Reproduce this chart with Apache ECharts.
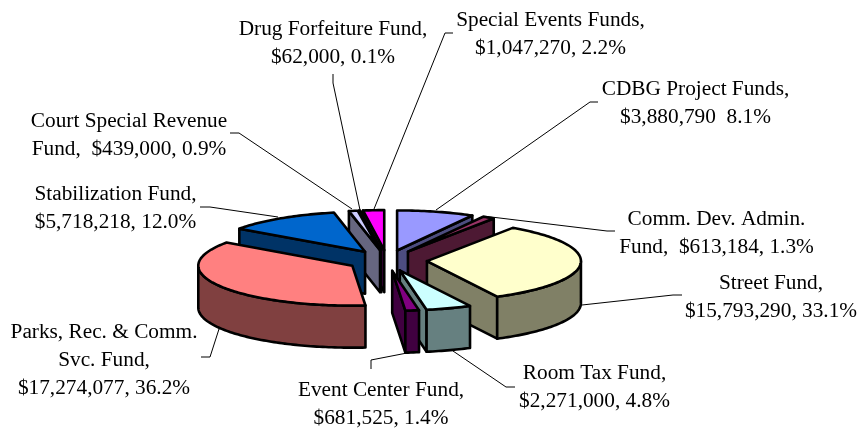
<!DOCTYPE html>
<html>
<head>
<meta charset="utf-8">
<title>Fund budget</title>
<script src="https://cdn.jsdelivr.net/npm/echarts@6/dist/echarts.min.js"></script>
<style>
  html, body { margin: 0; padding: 0; background: #fff; }
  #main { width: 861px; height: 428px; }
</style>
</head>
<body>
<div id="main"></div>
<script>
  // clockwise from 12 o'clock
  var funds = ['CDBG Project', 'Comm. Dev. Admin.', 'Street', 'Room Tax', 'Event Center',
    'Parks, Rec. & Comm. Svc.', 'Stabilization', 'Court Special Revenue', 'Drug Forfeiture', 'Special Events'];
  var amounts = [3880790, 613184, 15793290, 2271000, 681525, 17274077, 5718218, 439000, 62000, 1047270];
  var labels = [
    'CDBG Project Funds,\n$3,880,790  8.1%',
    'Comm. Dev. Admin.\nFund,  $613,184, 1.3%',
    'Street Fund,\n$15,793,290, 33.1%',
    'Room Tax Fund,\n$2,271,000, 4.8%',
    'Event Center Fund,\n$681,525, 1.4%',
    'Parks, Rec. & Comm.\nSvc. Fund,\n$17,274,077, 36.2%',
    'Stabilization Fund,\n$5,718,218, 12.0%',
    'Court Special Revenue\nFund,  $439,000, 0.9%',
    'Drug Forfeiture Fund,\n$62,000, 0.1%',
    'Special Events Funds,\n$1,047,270, 2.2%'
  ];
  var topColors = ['#9999FF', '#993366', '#FFFFCC', '#CCFFFF', '#800080', '#FF8080', '#0066CC', '#CCCCFF', '#000080', '#FF00FF'];
  var sideColors = ['#4D4D80', '#4D1933', '#808066', '#668080', '#400040', '#804040', '#003366', '#666680', '#000040', '#800080'];

  // label anchors (centre x, middle y of the block) and leader lines
  var labelPos = [[695.5, 103.5], [716.5, 233.5], [771, 297.5], [594.5, 387.5], [381, 404.5], [104, 360], [115.5, 208], [129, 135], [333, 43.5], [550.5, 34]];
  var leaders = [
    [[598, 102], [590, 102], [436, 210]],
    [[615, 231], [607, 231], [483, 216]],
    [[682, 295], [673, 295], [582, 305]],
    [[515, 387], [506, 387], [453, 351]],
    [[371, 369], [371, 360], [407, 353]],
    [[201, 357], [210, 357], [219, 329]],
    [[200, 207], [210, 207], [278, 217]],
    [[230, 133], [239, 133], [352, 209]],
    [[333, 74], [333, 83], [360, 210]],
    [[453, 33], [445, 33], [374, 209]]
  ];

  var cx = 387, cy = 260.5, rx = 154, ry = 40, depth = 42, explode = 40;
  var total = amounts.reduce(function (a, b) { return a + b; }, 0);

  // value -> angle in radians, clockwise from the top
  function toAngle(v) {
    return echarts.number.linearMap(v, [0, total], [0, Math.PI * 2]);
  }

  var running = 0;
  var slices = amounts.map(function (v, i) {
    var a0 = toAngle(running);
    running += v;
    var a1 = toAngle(running);
    var mid = (a0 + a1) / 2;
    return {
      i: i, a0: a0, a1: a1,
      x: cx + explode * Math.sin(mid),
      y: cy - explode * Math.cos(mid) * ry / rx
    };
  });

  function rim(s, a) {
    return [s.x + rx * Math.sin(a), s.y - ry * Math.cos(a)];
  }
  function down(p) {
    return [p[0], p[1] + depth];
  }
  function arcPoints(s, a0, a1) {
    var pts = [], n = Math.max(2, Math.ceil((a1 - a0) / 0.02));
    for (var k = 0; k <= n; k++) {
      pts.push(rim(s, a0 + (a1 - a0) * k / n));
    }
    return pts;
  }
  function shape(points, fill) {
    return {
      type: 'polygon',
      shape: { points: points },
      style: { fill: fill, stroke: '#000', lineWidth: 2.6, lineJoin: 'round' }
    };
  }
  // a radial wall shows when the top face lies above its edge on screen
  function wallShows(s, a) {
    var e = rim(s, a), m = rim(s, (s.a0 + s.a1) / 2);
    var ex = e[0] - s.x, ey = e[1] - s.y, mx = m[0] - s.x, my = m[1] - s.y;
    if (Math.abs(ex) < 0.5) return false;
    return my < ey / ex * mx;
  }

  // back to front
  var order = slices.slice().sort(function (a, b) { return a.y - b.y; });

  function renderItem(params, api) {
    var s = order[params.dataIndex];
    var children = [];
    var top = [s.x, s.y];
    [s.a0, s.a1].forEach(function (a) {
      if (wallShows(s, a)) {
        var e = rim(s, a);
        children.push(shape([top, e, down(e), down(top)], sideColors[s.i]));
      }
    });
    var f0 = Math.max(s.a0, Math.PI / 2), f1 = Math.min(s.a1, Math.PI * 1.5);
    if (f1 > f0) {
      var arc = arcPoints(s, f0, f1);
      children.push(shape(arc.concat(arc.map(down).reverse()), sideColors[s.i]));
    }
    children.push(shape([top].concat(arcPoints(s, s.a0, s.a1)), topColors[s.i]));
    return { type: 'group', children: children };
  }

  var chart = echarts.init(document.getElementById('main'));
  var graphics = [];
  leaders.forEach(function (pts) {
    graphics.push({
      type: 'polyline', z: 1,
      shape: { points: pts },
      style: { stroke: '#000', lineWidth: 1, fill: null }
    });
  });
  labels.forEach(function (txt, i) {
    graphics.push({
      type: 'text', z: 3,
      x: labelPos[i][0], y: labelPos[i][1],
      style: {
        text: txt, fill: '#000', align: 'center', verticalAlign: 'middle',
        font: '21.3px "Liberation Serif"', lineHeight: 28
      }
    });
  });

  chart.setOption({
    animation: false,
    backgroundColor: '#fff',
    graphic: graphics,
    series: [{
      type: 'custom',
      coordinateSystem: 'none',
      z: 2,
      clip: false,
      renderItem: renderItem,
      data: order.map(function (s) { return { name: funds[s.i], value: amounts[s.i] }; })
    }]
  });
</script>
</body>
</html>
